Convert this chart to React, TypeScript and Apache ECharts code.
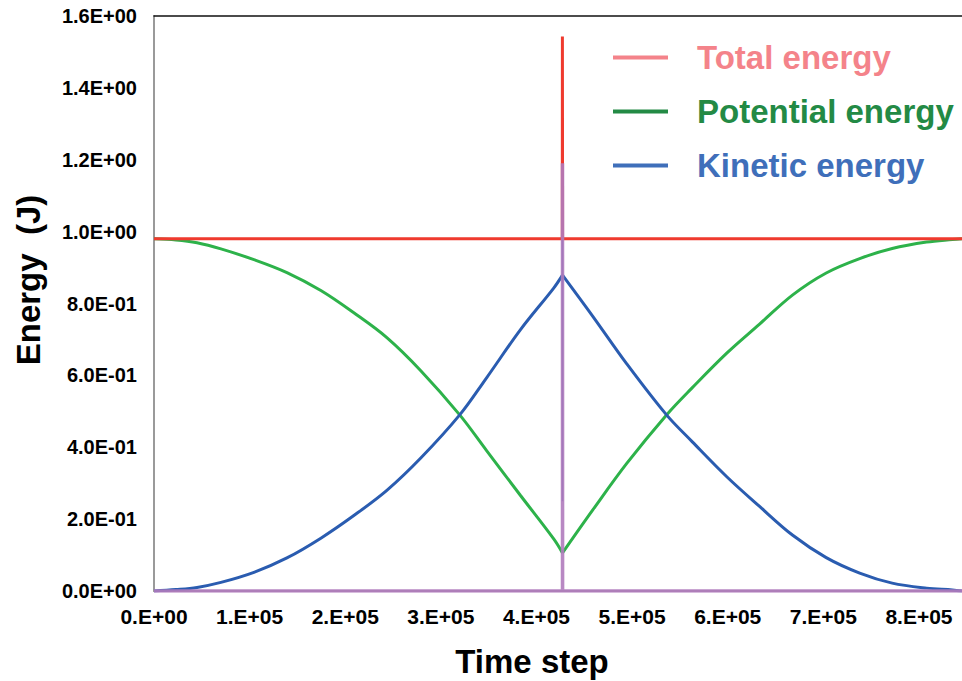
import React, { useEffect, useRef } from "react";
import * as echarts from "echarts";

// Time steps in units of 1E+05, energies in J
const potentialT = [0, 0.23, 0.45, 0.7, 1.045, 1.39, 1.745, 2.09, 2.435, 2.79, 3.197, 3.48, 3.835, 4.18, 4.272, 4.587, 4.944, 5.36, 5.63, 5.99, 6.33, 6.68, 7.03, 7.38, 7.72, 8.08, 8.35, 8.45];
const potentialV = [0.98, 0.977, 0.969, 0.952, 0.922, 0.886, 0.836, 0.774, 0.705, 0.613, 0.49, 0.39, 0.265, 0.145, 0.106, 0.225, 0.355, 0.49, 0.566, 0.662, 0.742, 0.824, 0.885, 0.925, 0.953, 0.971, 0.978, 0.98];

const kineticT = [0, 0.23, 0.45, 0.7, 1.045, 1.39, 1.745, 2.09, 2.435, 2.79, 3.197, 3.48, 3.835, 4.18, 4.272, 4.587, 4.944, 5.36, 5.63, 5.99, 6.33, 6.68, 7.03, 7.38, 7.72, 8.08, 8.35, 8.45];
const kineticV = [0, 0.004, 0.01, 0.024, 0.052, 0.092, 0.147, 0.21, 0.28, 0.37, 0.49, 0.594, 0.728, 0.843, 0.879, 0.765, 0.632, 0.49, 0.415, 0.318, 0.236, 0.155, 0.093, 0.05, 0.022, 0.008, 0.003, 0];

// kinetic-energy spike at the contact instant
const kineticSpikeT = [4.271, 4.2715, 4.272, 4.2725];
const kineticSpikeV = [0.879, 1.19, 0.25, 0.879];

const totalT = [0, 4.27, 4.271, 4.273, 8.45];
const totalV = [0.98, 0.98, 1.543, 0.98, 0.98];

const otherT = [0, 4.272, 4.272, 4.273, 8.45];
const otherV = [0, 0, 1.19, 0, 0];

const legendNames = ["Total energy", "Potential energy", "Kinetic energy"];
const legendColors = ["#f4838a", "#238a45", "#3f6fba"];

const FONT = "'Liberation Sans', Arial, Helvetica, sans-serif";

const pairs = (t: number[], v: number[]) => t.map((x, i) => [x * 1e5, v[i]]);

const expo = (m: string, e: string) => {
  const n = parseInt(e, 10);
  return m + "E" + (n < 0 ? "-" : "+") + String(Math.abs(n)).padStart(2, "0");
};
const fmtY = (v: number) => {
  const [m, e] = v.toExponential(1).split("e");
  return expo(m, e);
};
const fmtX = (v: number) => {
  const [m, e] = v.toExponential(0).split("e");
  return expo(m + ".", e);
};

export default function App() {
  const ref = useRef<HTMLDivElement>(null);
  useEffect(() => {
    document.body.style.margin = "0";
    const chart = echarts.init(ref.current!, undefined, { renderer: "svg" });
    const xMax = 845000;

    const pMin = potentialV.indexOf(Math.min(...potentialV));
    const kMax = kineticV.indexOf(Math.max(...kineticV));
    const pData = pairs(potentialT, potentialV);
    const kData = pairs(kineticT, kineticV);

    const curve = (name: string, data: number[][], color: string, z: number) => ({
      name,
      type: "line",
      data,
      showSymbol: false,
      smooth: 0.35,
      lineStyle: { color, width: 3 },
      itemStyle: { color },
      z,
    });

    chart.setOption({
      animation: false,
      backgroundColor: "#ffffff",
      grid: { left: 154, right: 0, top: 16, bottom: 90, outerBoundsMode: "none" },
      xAxis: [
        {
          type: "value",
          min: 0,
          max: xMax,
          interval: 100000,
          axisLine: { show: true, lineStyle: { color: "#9a9a9a", width: 2 } },
          axisTick: { show: false },
          splitLine: { show: false },
          axisLabel: {
            formatter: fmtX,
            showMaxLabel: false,
            margin: 15,
            fontSize: 21,
            fontWeight: "bold",
            fontFamily: FONT,
            color: "#000",
          },
        },
        {
          type: "value",
          position: "top",
          min: 0,
          max: xMax,
          axisLine: { show: true, lineStyle: { color: "#111", width: 1.5 } },
          axisTick: { show: false },
          axisLabel: { show: false },
          splitLine: { show: false },
        },
      ],
      yAxis: {
        type: "value",
        min: 0,
        max: 1.6,
        interval: 0.2,
        axisLine: { show: true, lineStyle: { color: "#9a9a9a", width: 2 } },
        axisTick: { show: false },
        splitLine: { show: false },
        axisLabel: {
          formatter: fmtY,
          margin: 17,
          fontSize: 20,
          fontWeight: "bold",
          fontFamily: FONT,
          color: "#000",
        },
      },
      legend: {
        orient: "vertical",
        left: 613,
        top: 41,
        padding: 0,
        itemWidth: 55,
        itemHeight: 4,
        itemGap: 21,
        icon: "rect",
        selectedMode: false,
        textStyle: {
          fontSize: 33,
          fontWeight: "bold",
          fontFamily: FONT,
          lineHeight: 33,
          padding: [0, 0, 0, 24],
        },
        data: legendNames.map((n, i) => ({
          name: n,
          itemStyle: { color: legendColors[i] },
          textStyle: { color: legendColors[i] },
        })),
      },
      graphic: [
        {
          type: "text",
          x: 532,
          y: 661,
          style: {
            text: "Time step",
            align: "center",
            verticalAlign: "middle",
            fontSize: 33,
            fontWeight: "bold",
            fontFamily: FONT,
            fill: "#000",
          },
        },
        {
          type: "text",
          x: 28,
          y: 280,
          rotation: Math.PI / 2,
          style: {
            text: "Energy  (J)",
            align: "center",
            verticalAlign: "middle",
            fontSize: 33,
            fontWeight: "bold",
            fontFamily: FONT,
            fill: "#000",
          },
        },
      ],
      series: [
        curve("Potential energy", pData.slice(0, pMin + 1), "#2db24a", 2),
        curve("Potential energy", pData.slice(pMin), "#2db24a", 2),
        curve("Kinetic energy", kData.slice(0, kMax + 1), "#2a5cb0", 3),
        curve("Kinetic energy", kData.slice(kMax), "#2a5cb0", 3),
        {
          name: "Kinetic energy",
          type: "line",
          data: pairs(kineticSpikeT, kineticSpikeV),
          showSymbol: false,
          lineStyle: { color: "#2a5cb0", width: 1.5 },
          itemStyle: { color: "#2a5cb0" },
          z: 3,
        },
        {
          name: "Total energy",
          type: "line",
          data: pairs(totalT, totalV),
          showSymbol: false,
          lineStyle: { color: "#ef3a2e", width: 3 },
          itemStyle: { color: "#ef3a2e" },
          z: 4,
        },
        {
          name: "Other energy",
          type: "line",
          data: pairs(otherT, otherV),
          showSymbol: false,
          lineStyle: { color: "#b07bbd", width: 3.5, opacity: 0.9 },
          itemStyle: { color: "#b07bbd" },
          z: 5,
        },
      ],
    });
    return () => chart.dispose();
  }, []);
  return <div ref={ref} style={{ position: "absolute", left: 0, top: 0, width: 962, height: 681 }} />;
}
